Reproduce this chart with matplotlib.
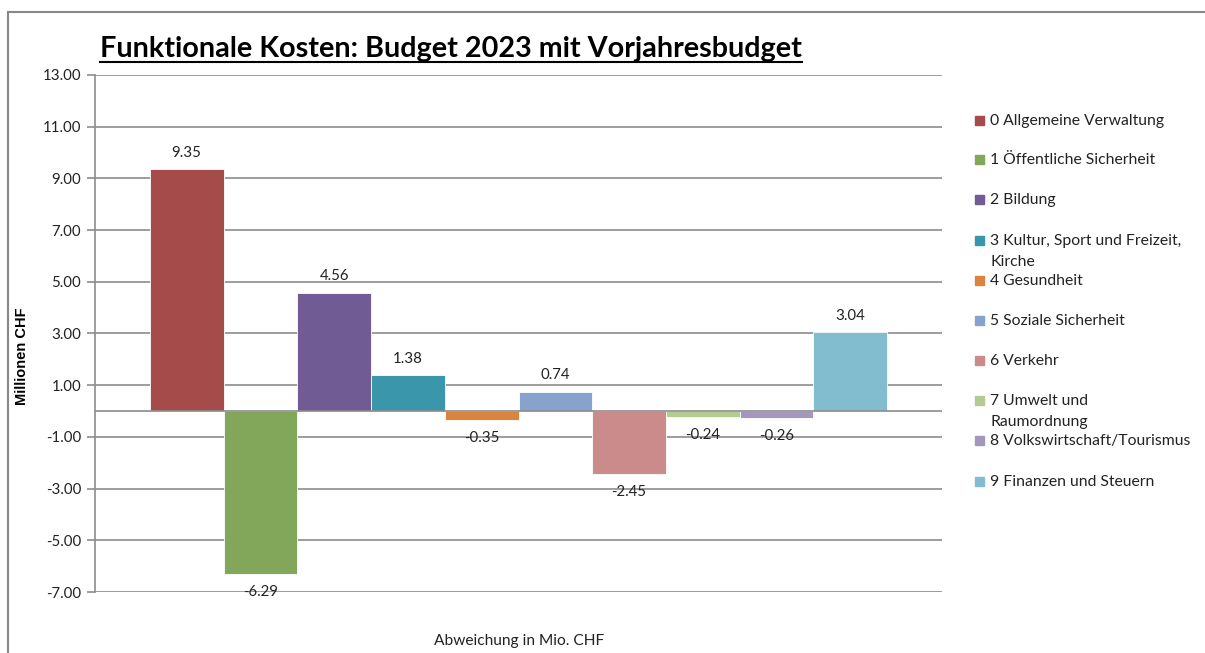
import matplotlib
matplotlib.use("Agg")
import matplotlib.pyplot as plt
from matplotlib.lines import Line2D
import numpy as np

title = "Funktionale Kosten: Budget 2023 mit Vorjahresbudget"
categories = [
    "0 Allgemeine Verwaltung",
    "1 Öffentliche Sicherheit",
    "2 Bildung",
    "3 Kultur, Sport und Freizeit,\nKirche",
    "4 Gesundheit",
    "5 Soziale Sicherheit",
    "6 Verkehr",
    "7 Umwelt und\nRaumordnung",
    "8 Volkswirtschaft/Tourismus",
    "9 Finanzen und Steuern",
]
values = [9.35, -6.29, 4.56, 1.38, -0.35, 0.74, -2.45, -0.24, -0.26, 3.04]
colors = ["#A54B4A", "#82A65A", "#715B94", "#3A97AB", "#DB843E",
          "#86A3CD", "#CB8B8A", "#B1CB91", "#A497BE", "#82BDCF"]
yticks = [-7, -5, -3, -1, 1, 3, 5, 7, 9, 11, 13]

plt.rcParams['font.family'] = ['Lato', 'DejaVu Sans']
W, H = 1205, 653
fig = plt.figure(figsize=(W / 100, H / 100), dpi=100)
ax = fig.add_axes([95 / W, 1 - 592 / H, (942 - 95) / W, (592 - 75) / H])

n = len(values)
gap = 0.743
xpos = np.arange(n)
bars = ax.bar(xpos, values, width=1.0, color=colors, edgecolor="white",
              linewidth=0.6, zorder=3)
for b, c in zip(bars, categories):
    b.set_label(c)

ax.set_xlim(-0.5 - gap, n - 0.5 + gap)
ax.set_ylim(-7, 13)
ax.set_yticks(yticks)
ax.set_yticklabels([f"{t:.2f}" for t in yticks], fontsize=10.8, color="#222222")
ax.set_xticks([])
ax.grid(axis="y", color="#8C8C8C", linewidth=1.2, zorder=0)
ax.axhline(0, color="#8C8C8C", linewidth=1.2, zorder=4)
for s in ["top", "right", "bottom"]:
    ax.spines[s].set_visible(False)
ax.spines["left"].set_color("#8C8C8C")
ax.spines["left"].set_linewidth(1.2)
ax.tick_params(axis="y", length=6, width=1.2, color="#8C8C8C", pad=4)

for x, v in zip(xpos, values):
    if v >= 0:
        ax.annotate(f"{v:.2f}", (x, v), xytext=(0, 7), textcoords="offset points",
                    ha="center", va="bottom", fontsize=10.8, color="#222222")
    else:
        ax.annotate(f"{v:.2f}", (x, v), xytext=(0, -8), textcoords="offset points",
                    ha="center", va="top", fontsize=10.8, color="#222222")

# legend
leg_y = [120, 159, 199, 240, 280, 320, 360, 400, 440, 481]
for c, lbl, y in zip(colors, categories, leg_y):
    fig.patches.append(plt.Rectangle((975 / W, 1 - (y + 5) / H), 9 / W, 9 / H,
                                     transform=fig.transFigure, color=c))
    fig.text(990 / W, 1 - (y - 6) / H, lbl, fontsize=11.3, va="top", ha="left",
             color="#222222", linespacing=1.6)

# title with underline
t = fig.text(100 / W, 1 - 57 / H, title, fontsize=20.7, fontweight="bold",
             ha="left", va="baseline", color="black")
fig.canvas.draw()
bb = t.get_window_extent()
fig.add_artist(Line2D([bb.x0 / W, bb.x1 / W], [1 - 62 / H, 1 - 62 / H],
                      transform=fig.transFigure, color="black", linewidth=1.5))

fig.text(22 / W, 1 - 356 / H, "Millionen CHF", rotation=90, fontsize=10.5,
         fontweight="bold", ha="center", va="center",
         family=["Liberation Sans", "DejaVu Sans"])
fig.text(519 / W, 1 - 641 / H, "Abweichung in Mio. CHF", fontsize=11.2,
         ha="center", va="center", color="#222222")

# outer border (top and left)
fig.add_artist(Line2D([8 / W, 8 / W], [0, 1 - 12 / H], transform=fig.transFigure,
                      color="#888888", linewidth=1.5))
fig.add_artist(Line2D([8 / W, 1], [1 - 12 / H, 1 - 12 / H], transform=fig.transFigure,
                      color="#888888", linewidth=1.5))

fig.savefig("out.png", dpi=100)
